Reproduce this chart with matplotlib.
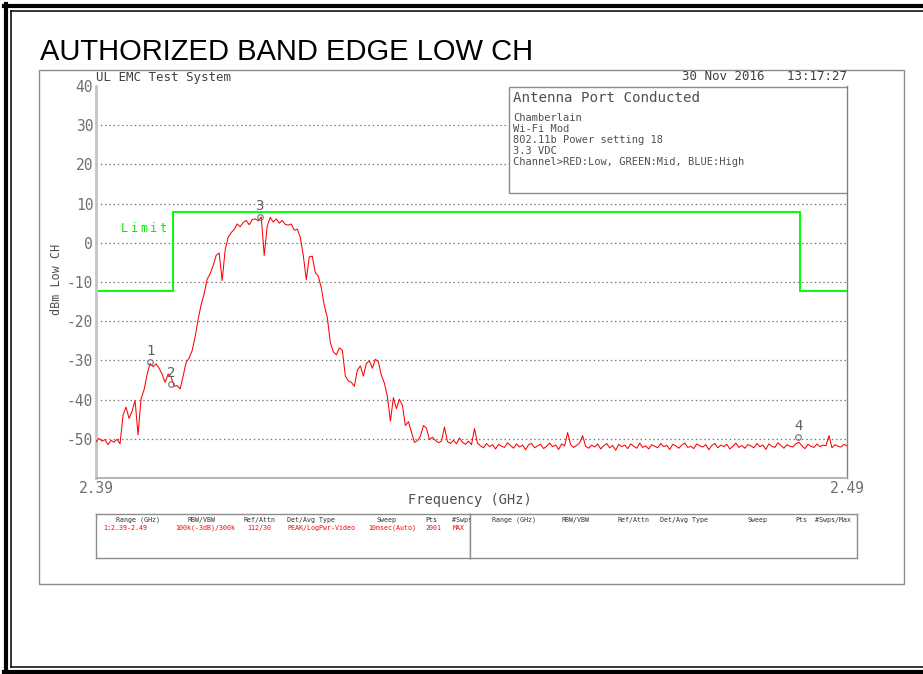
import numpy as np
import matplotlib
matplotlib.use("Agg")
import matplotlib.pyplot as plt
from matplotlib.patches import Rectangle
from matplotlib.lines import Line2D

plt.rcParams['axes.unicode_minus'] = False
MONO = 'DejaVu Sans Mono'

# sweep 2.39 - 2.49 GHz, trace every 0.4 MHz
freq_start = 2.39
freq_stop = 2.49
level_dbm = [
    -50.8, -49.9, -50.6, -50.2, -51.5, -50.4, -50.9, -50.1, -51.3, -44.0,
    -41.9, -44.8, -43.0, -40.2, -49.0, -39.8, -37.5, -33.6, -30.8, -31.6,
    -30.9, -32.0, -33.5, -35.6, -33.5, -34.2, -36.6, -36.4, -37.3, -34.0,
    -30.5, -29.4, -27.5, -24.0, -19.5, -15.8, -13.0, -9.3, -7.9, -5.8,
    -3.2, -2.6, -9.6, -1.8, 1.4, 2.6, 3.4, 4.8, 4.1, 5.2,
    5.7, 4.6, 5.9, 6.1, 5.6, 6.6, -3.2, 4.3, 6.5, 5.3,
    6.1, 5.0, 5.7, 4.7, 4.5, 4.8, 3.2, 3.5, 1.4, -3.2,
    -9.4, -3.6, -3.4, -7.6, -8.5, -11.5, -16.0, -19.0, -25.4, -27.8,
    -28.6, -26.8, -27.4, -34.0, -35.2, -35.6, -36.6, -32.5, -31.4, -34.0,
    -30.8, -30.1, -32.0, -29.7, -30.4, -33.8, -35.8, -39.2, -45.5, -39.5,
    -42.3, -39.9, -41.5, -46.6, -45.6, -48.2, -50.9, -50.5, -49.3, -46.6,
    -47.3, -50.2, -49.6, -50.4, -51.0, -50.6, -47.0, -50.7, -51.2, -50.4,
    -51.3, -49.8, -50.9, -51.4, -50.6, -51.5, -47.4, -51.1,
    -51.8, -52.3, -51.2, -52.0, -51.5, -52.6, -51.4, -51.9, -52.2, -51.0,
    -51.7, -52.4, -51.3, -52.1, -51.6, -52.8, -51.5, -51.2, -52.3, -51.8,
    -51.4, -52.5, -51.9, -51.1, -52.0, -51.6, -52.7, -51.3, -51.8, -48.4,
    -51.5, -52.2, -51.7, -51.0, -49.2, -51.9, -52.4, -51.6, -52.1, -51.3,
    -52.6, -51.8, -51.2, -52.3, -51.7, -52.9, -51.4, -52.0, -51.6, -52.5,
    -51.3, -51.9, -52.4, -51.1, -52.2, -51.8, -52.6, -51.5, -51.9, -52.3,
    -51.2, -52.0, -51.7, -52.7, -51.4, -51.8, -52.4, -51.6, -51.1, -52.2,
    -51.9, -52.5, -51.3, -51.8, -52.1, -51.5, -52.8, -51.7, -51.2, -52.3,
    -51.6, -52.0, -51.4, -52.6, -51.9, -51.1, -52.2, -51.7, -52.4, -51.5,
    -51.8, -52.3, -51.2, -52.0, -51.6, -52.7, -51.3, -51.9, -52.2, -51.0,
    -51.7, -52.4, -51.5, -51.9, -52.1, -51.2, -50.9, -51.8, -52.5, -51.4,
    -51.9, -52.2, -51.3, -52.0, -51.6, -51.8, -49.2, -52.3, -51.5, -51.9,
    -52.1, -51.4, -51.8,
]
freq_ghz = np.linspace(freq_start, freq_stop, len(level_dbm))

# limit mask
limit_edges = [2.39, 2.4002, 2.4837, 2.49]
limit_dbm = [-12.2, 7.8, -12.2]

# markers
marker_names = ['1', '2', '3', '4']
marker_freq = [2.3972, 2.4000, 2.4118, 2.4835]
marker_dbm = [-30.5, -36.0, 6.6, -49.5]

y_ticks = [-50, -40, -30, -20, -10, 0, 10, 20, 30, 40]
grid_levels = [-50, -40, -30, -20, -10, 0, 10, 20, 30]

info_title = 'Antenna Port Conducted'
info_lines = ['Chamberlain', 'Wi-Fi Mod', '802.11b Power setting 18', '3.3 VDC',
              'Channel>RED:Low, GREEN:Mid, BLUE:High']

tbl_left_head = [('Range (GHz)', 116), ('RBW/VBW', 188), ('Ref/Attn', 243),
                 ('Det/Avg Type', 287), ('Sweep', 377), ('Pts', 425), ('#Swps/Max', 452)]
tbl_left_row = [('1:2.39-2.49', 103), ('100k(-3dB)/300k', 175), ('112/30', 247),
                ('PEAK/LogPwr-Video', 287), ('10msec(Auto)', 368), ('2001', 425), ('MAX', 453)]
tbl_right_head = [('Range (GHz)', 492), ('RBW/VBW', 562), ('Ref/Attn', 617),
                  ('Det/Avg Type', 660), ('Sweep', 748), ('Pts', 795), ('#Swps/Max', 815)]

W, H = 923, 674


def fx(x):
    return x / W


def fy(y):
    return 1 - y / H


fig = plt.figure(figsize=(W / 100, H / 100), dpi=100)

# page borders
def fline(x0, y0, x1, y1, **kw):
    fig.add_artist(Line2D([fx(x0), fx(x1)], [fy(y0), fy(y1)], transform=fig.transFigure, **kw))

fline(6, 4, 6, 674, color='black', lw=3.0)
fline(4, 5.5, 923, 5.5, color='black', lw=3.0)
fline(4, 672, 923, 672, color='black', lw=3.0)
fline(11, 11, 11, 667, color='black', lw=1.1)
fline(11, 11, 923, 11, color='black', lw=1.1)
fline(11, 667, 923, 667, color='black', lw=1.1)
fig.add_artist(Rectangle((fx(39), fy(584)), fx(904) - fx(39), fy(70) - fy(584),
                         transform=fig.transFigure, fill=False, ec='#8c8c8c', lw=1.0))

fig.text(fx(40), fy(52), 'AUTHORIZED BAND EDGE LOW CH', family='Liberation Sans',
         fontsize=21, ha='left', va='center', color='black')

# plot area
ax = fig.add_axes([fx(96), fy(478), fx(847) - fx(96), fy(86) - fy(478)])
ax.set_xlim(freq_start, freq_stop)
ax.set_ylim(-60, 40)
for lv in grid_levels:
    ax.axhline(lv, color='#7a7a7a', lw=0.9, ls=(0, (1.2, 2.2)), zorder=1)
ax.stairs(limit_dbm, limit_edges, baseline=None, color='#00ff00', lw=1.4, zorder=2)
ax.plot(freq_ghz, level_dbm, color='#ff0000', lw=0.75, zorder=3)

for name, f, l in zip(marker_names, marker_freq, marker_dbm):
    ax.plot(f, l, marker='o', ms=4, mfc='none', mec='#707070', mew=0.8, zorder=5)
    ax.annotate(name, (f, l), xytext=(0, 3), textcoords='offset points',
                ha='center', va='bottom', fontsize=10, color='#606060', family=MONO)

# letter-spaced "Limit" label
for k, ch in enumerate('Limit'):
    ax.text((121 + 9.5 * k - 96) / 751, (478 - 228) / 392, ch, transform=ax.transAxes,
            color='#00ee00', fontsize=8.5, family=MONO, va='center', ha='left')

ax.set_yticks(y_ticks)
ax.set_yticklabels([str(v) for v in y_ticks], family=MONO, fontsize=10.5, color='#707070')
ax.set_xticks([freq_start, freq_stop])
ax.set_xticklabels(['2.39', '2.49'], family=MONO, fontsize=10.5, color='#707070')
ax.tick_params(axis='both', length=0, pad=2)
ax.spines['top'].set_visible(False)
ax.spines['left'].set_color('#c4c4c4')
ax.spines['left'].set_linewidth(2.0)
ax.spines['bottom'].set_color('#a8a8a8')
ax.spines['bottom'].set_linewidth(1.2)
ax.spines['right'].set_color('#808080')
ax.spines['right'].set_linewidth(1.0)

# info box
bx0 = (509 - 96) / 751
by0 = (478 - 193) / 392
by1 = (478 - 87) / 392
ax.add_patch(Rectangle((bx0, by0), 1 - bx0, by1 - by0, transform=ax.transAxes,
                       fc='white', ec='#8c8c8c', lw=1.0, zorder=4))
ax.text((513 - 96) / 751, (478 - 98) / 392, info_title, transform=ax.transAxes,
        family=MONO, fontsize=10.2, color='#505050', va='center', zorder=6)
for k, line in enumerate(info_lines):
    ax.text((513 - 96) / 751, (478 - (118 + 11 * k)) / 392, line, transform=ax.transAxes,
            family=MONO, fontsize=7.5, color='#505050', va='center', zorder=6)

fig.text(fx(96), fy(78), 'UL EMC Test System', family=MONO, fontsize=9,
         color='#404040', va='center', ha='left')
fig.text(fx(847), fy(77), '30 Nov 2016   13:17:27', family=MONO, fontsize=9,
         color='#404040', va='center', ha='right')
fig.text(fx(57), fy(279), 'dBm Low CH', family=MONO, fontsize=8.5, color='#505050',
         rotation=90, va='center', ha='center')
fig.text(fx(470), fy(500), 'Frequency (GHz)', family=MONO, fontsize=9.8, color='#505050',
         va='center', ha='center')

# settings table
def table_cell(x0, x1, heads, rows):
    tax = fig.add_axes([fx(x0), fy(558), fx(x1) - fx(x0), fy(514) - fy(558)])
    tax.set_xlim(x0, x1)
    tax.set_ylim(558, 514)
    tax.set_xticks([])
    tax.set_yticks([])
    for s in tax.spines.values():
        s.set_color('#8c8c8c')
        s.set_linewidth(1.0)
    for txt, x in heads:
        tax.text(x, 520, txt, family=MONO, fontsize=4.8, color='#303030',
                 va='center', clip_on=True)
    for txt, x in rows:
        tax.text(x, 528, txt, family=MONO, fontsize=4.8, color='#ff0000',
                 va='center', clip_on=True)

table_cell(96, 470, tbl_left_head, tbl_left_row)
table_cell(470, 857, tbl_right_head, [])

fig.savefig('out.png', dpi=100)
